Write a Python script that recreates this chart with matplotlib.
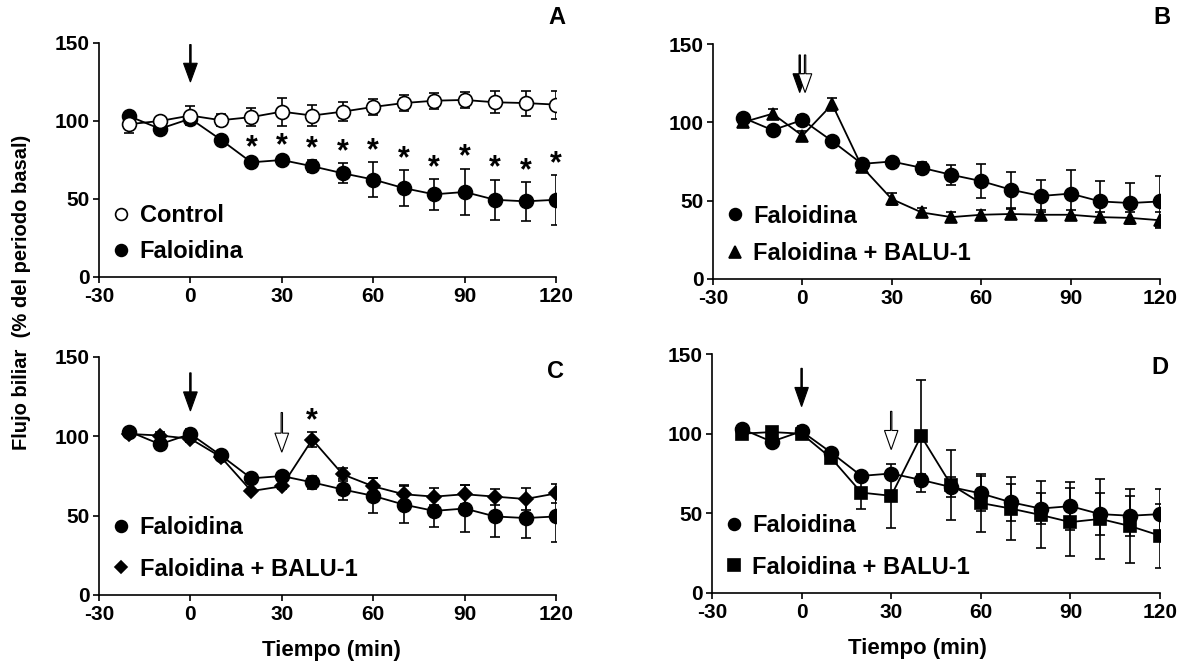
import matplotlib
matplotlib.use('Agg')
import matplotlib.pyplot as plt
from matplotlib.lines import Line2D

plt.rcParams['font.family'] = ['Liberation Sans', 'DejaVu Sans']
plt.rcParams['font.weight'] = 'bold'
plt.rcParams['axes.unicode_minus'] = False

tiempo = [-20, -10, 0, 10, 20, 30, 40, 50, 60, 70, 80, 90, 100, 110, 120]

control = [98, 100, 103.5, 100.5, 102.5, 106, 103.5, 106, 109, 111.5, 113, 113.5, 112, 111.5, 110.5]
control_err = [6, 2, 6, 4, 6, 9, 7, 6, 5, 5, 5, 5, 7, 8, 9]

faloidina = [103, 95, 101.5, 88, 73.5, 75, 71, 66.5, 62.5, 57, 53, 54.5, 49.5, 48.5, 49.5]
faloidina_err = [2, 2, 3, 2, 2, 2, 4, 6.5, 11, 11.5, 10, 15, 13, 12.5, 16]

balu_b = [100, 105.5, 91.5, 111.5, 71.5, 51, 42.5, 39.5, 41, 41.5, 41, 41, 39.5, 39, 37.5]
balu_b_err = [2, 3, 3, 4, 2, 4, 3, 3, 3, 3, 3, 3, 3, 4, 5]

balu_c = [101.5, 100.5, 98.5, 87, 65.5, 68.5, 98, 76, 68.5, 63.5, 62, 63.5, 62, 60.5, 64]
balu_c_err = [2, 2, 2, 2, 1.5, 1.5, 4.5, 4, 5, 6, 5.5, 6, 5, 7, 6]

balu_d = [100, 101, 100, 84.5, 63, 61, 98.5, 68, 56.5, 53, 49, 44.5, 46.5, 42, 36]
balu_d_err = [3, 2, 2, 2, 10, 20, 35, 22, 18, 20, 21, 21.5, 25, 23, 20]

# tiempos con diferencia significativa (*)
sig_a = [20, 30, 40, 50, 60, 70, 80, 90, 100, 110, 120]
sig_c = [40]

xticks = [-30, 0, 30, 60, 90, 120]
yticks = [0, 50, 100, 150]

W, H = 1188, 662
fig = plt.figure(figsize=(W / 100, H / 100), dpi=100)


def px_axes(l, r, t, b):
    return fig.add_axes([l / W, 1 - b / H, (r - l) / W, (b - t) / H])


axA = px_axes(99, 556, 43, 277)
axB = px_axes(713, 1160, 44, 279)
axC = px_axes(99, 556, 357, 595)
axD = px_axes(712, 1160, 354, 593)


def serie(ax, y, err, marker, face='black', ms=10, z=3):
    ax.errorbar(tiempo, y, yerr=err, color='black', lw=1.3, marker=marker,
                mfc=face, mec='black', mew=1.2, ms=ms, capsize=3.5,
                capthick=1.3, elinewidth=1.2, zorder=z)


def flecha(ax, x, y0, y1, face='black', hl=12, hw=4.5):
    ax.arrow(x, y0, 0, y1 - y0, length_includes_head=True, head_length=hl,
             head_width=hw, width=0.45, fc=face, ec='black', lw=0.8,
             zorder=5, clip_on=False)


def estrellas(ax, xs, y, err):
    for x in xs:
        i = tiempo.index(x)
        ax.text(x, y[i] + err[i] + 7, '*', ha='center', va='center',
                fontsize=22, fontweight='bold')


def leyenda(ax, marcas, textos, espacio):
    handles = [Line2D([], [], ls='none', marker=m, mfc=f, mec='black',
                      mew=1.2, ms=s) for m, f, s in marcas]
    ax.legend(handles, textos, loc='lower left', frameon=False,
              bbox_to_anchor=(0.027, 0.06), borderaxespad=0, borderpad=0,
              prop={'size': 17, 'weight': 'bold'}, handlelength=0.8,
              handletextpad=0.4, labelspacing=espacio)


for ax in (axA, axB, axC, axD):
    ax.set_xlim(-30, 120)
    ax.set_ylim(0, 150)
    ax.set_xticks(xticks)
    ax.set_yticks(yticks)
    for s in ('top', 'right'):
        ax.spines[s].set_visible(False)
    for s in ('left', 'bottom'):
        ax.spines[s].set_linewidth(1.2)
    ax.tick_params(direction='out', length=4, width=1.2, labelsize=15, pad=3)
    for lab in ax.get_xticklabels() + ax.get_yticklabels():
        lab.set_fontweight('bold')

circulo = ('o', 'black', 8.5)

# A
serie(axA, faloidina, faloidina_err, 'o', z=3)
serie(axA, control, control_err, 'o', face='white', z=4)
estrellas(axA, sig_a, faloidina, faloidina_err)
flecha(axA, 0, 149, 125)
leyenda(axA, [('o', 'white', 8.5), circulo], ['Control', 'Faloidina'], 0.55)

# B
serie(axB, faloidina, faloidina_err, 'o', z=3)
serie(axB, balu_b, balu_b_err, '^', ms=9, z=4)
flecha(axB, -0.9, 143, 119)
flecha(axB, 0.9, 143, 119, face='white')
leyenda(axB, [circulo, ('^', 'black', 8)],
        ['Faloidina', 'Faloidina + BALU-1'], 0.6)

# C
serie(axC, faloidina, faloidina_err, 'o', z=3)
serie(axC, balu_c, balu_c_err, 'D', ms=7, z=4)
estrellas(axC, sig_c, balu_c, balu_c_err)
flecha(axC, 0, 140, 116)
flecha(axC, 30, 115, 90, face='white')
leyenda(axC, [circulo, ('D', 'black', 6.5)],
        ['Faloidina', 'Faloidina + BALU-1'], 0.8)

# D
serie(axD, faloidina, faloidina_err, 'o', z=3)
serie(axD, balu_d, balu_d_err, 's', ms=9, z=4)
flecha(axD, 0, 141, 117)
flecha(axD, 30, 114, 90, face='white')
leyenda(axD, [circulo, ('s', 'black', 8)],
        ['Faloidina', 'Faloidina + BALU-1'], 0.8)

# letras de panel
for letra, (x, y) in zip('ABCD', [(557, 17), (1162, 17), (555, 372), (1160, 368)]):
    fig.text(x / W, 1 - y / H, letra, ha='center', va='center',
             fontsize=17, fontweight='bold')

axC.set_xlabel('Tiempo (min)', fontsize=16, fontweight='bold')
axD.set_xlabel('Tiempo (min)', fontsize=16, fontweight='bold')
axC.xaxis.set_label_coords(0.508, -0.188)
axD.xaxis.set_label_coords(0.458, -0.188)

fig.text(22 / W, 1 - 292 / H, 'Flujo biliar  (% del periodo basal)',
         rotation=90, ha='center', va='center', fontsize=14.5, fontweight='bold')

fig.savefig('out.png', dpi=100)
